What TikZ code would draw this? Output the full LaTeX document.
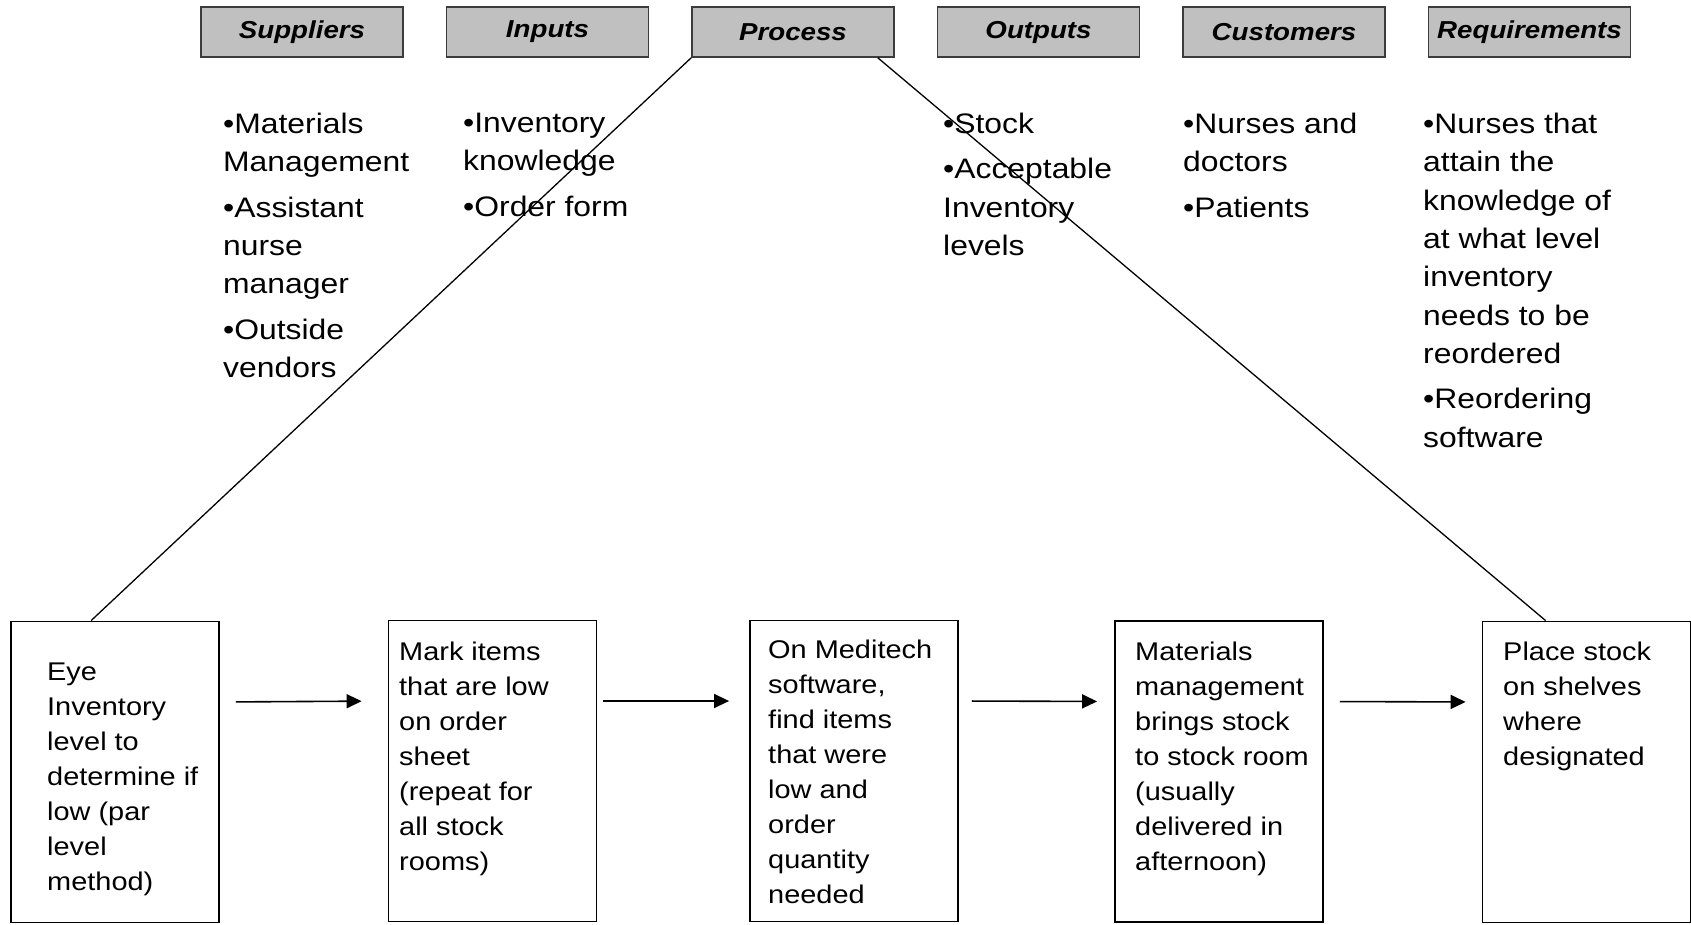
\documentclass[tikz,border=0pt]{standalone}
\usepackage{fontspec}
\setmainfont{Liberation Sans}[FakeStretch=1.13]
\usepackage{xcolor}
\usetikzlibrary{arrows.meta, positioning}
\definecolor{sipochead}{RGB}{192,192,192}
\definecolor{sipocedge}{RGB}{60,60,60}

\begin{document}
\begin{tikzpicture}[
    x=1pt, y=-1pt,
    node distance=42pt,
    headbox/.style={rectangle, draw=sipocedge, fill=sipochead, line width=1.5pt, minimum width=202pt, minimum height=50pt, inner sep=0pt, font=\fontsize{24.5}{28}\selectfont\bfseries\itshape},
    listtext/.style={anchor=north west, align=left, inner sep=0pt, font=\fontsize{28.2}{38.3}\selectfont},
    stepbox/.style={rectangle, draw, line width=1.8pt, minimum width=208pt, minimum height=301pt, inner sep=0pt},
    steptext/.style={anchor=north west, align=left, inner sep=0pt, font=\fontsize{25.6}{35}\selectfont},
    arrow/.style={-{Triangle[length=15pt, width=14pt]}, line width=1.6pt},
    diag/.style={line width=1.3pt}
]
\useasboundingbox (0,0) rectangle (1691,925);

% SIPOC headings
\node[headbox] (suppliers) at (302,32) {Suppliers};
\node[headbox, right=of suppliers] (inputs) {Inputs};
\node[headbox, right=of inputs] (process) {Process};
\node[headbox, right=of process] (outputs) {Outputs};
\node[headbox, right=of outputs] (customers) {Customers};
\node[headbox, right=of customers] (requirements) {Requirements};

% Lists under headings
\node[listtext] (suplist) at (223,113) {•Materials\\Management\\[7pt]•Assistant\\nurse\\manager\\[7pt]•Outside\\vendors};
\node[listtext] (inplist) at (463,113) {•Inventory\\knowledge\\[7pt]•Order form};
\node[listtext] (outlist) at (943,113) {•Stock\\[7pt]•Acceptable\\Inventory\\levels};
\node[listtext] (cuslist) at (1183,113) {•Nurses and\\doctors\\[7pt]•Patients};
\node[listtext] (reqlist) at (1423,113) {•Nurses that\\attain the\\knowledge of\\at what level\\inventory\\needs to be\\reordered\\[7pt]•Reordering\\software};

% Process steps
\node[stepbox] (b1) at (115,772) {};
\node[stepbox] (b2) at (492.5,771) {};
\node[stepbox] (b3) at (854,771) {};
\node[stepbox] (b4) at (1219,771.5) {};
\node[stepbox] (b5) at (1586.5,772) {};

\node[steptext] (b1txt) at (47,663) {Eye\\Inventory\\level to\\determine if\\low (par\\level\\method)};
\node[steptext] (b2txt) at (399,642) {Mark items\\that are low\\on order\\sheet\\(repeat for\\all stock\\rooms)};
\node[steptext] (b3txt) at (768,640) {On Meditech\\software,\\find items\\that were\\low and\\order\\quantity\\needed};
\node[steptext] (b4txt) at (1135,642) {Materials\\management\\brings stock\\to stock room\\(usually\\delivered in\\afternoon)};
\node[steptext] (b5txt) at (1503,642) {Place stock\\on shelves\\where\\designated};

% Arrows between steps
\draw[arrow, shorten <=16pt, shorten >=26pt] ([yshift=70pt]b1.east) -- ([yshift=70pt]b2.west);
\draw[arrow, shorten <=6pt, shorten >=20pt] ([yshift=70pt]b2.east) -- ([yshift=70pt]b3.west);
\draw[arrow, shorten <=13pt, shorten >=17pt] ([yshift=70pt]b3.east) -- ([yshift=70pt]b4.west);
\draw[arrow, shorten <=16pt, shorten >=16pt] ([yshift=70pt]b4.east) -- ([yshift=70pt]b5.west);

% Process expands into the steps
\draw[diag] (process.south west) -- ([xshift=81pt]b1.north west);
\draw[diag] ([xshift=-17pt]process.south east) -- ([xshift=64pt]b5.north west);

\end{tikzpicture}
\end{document}
